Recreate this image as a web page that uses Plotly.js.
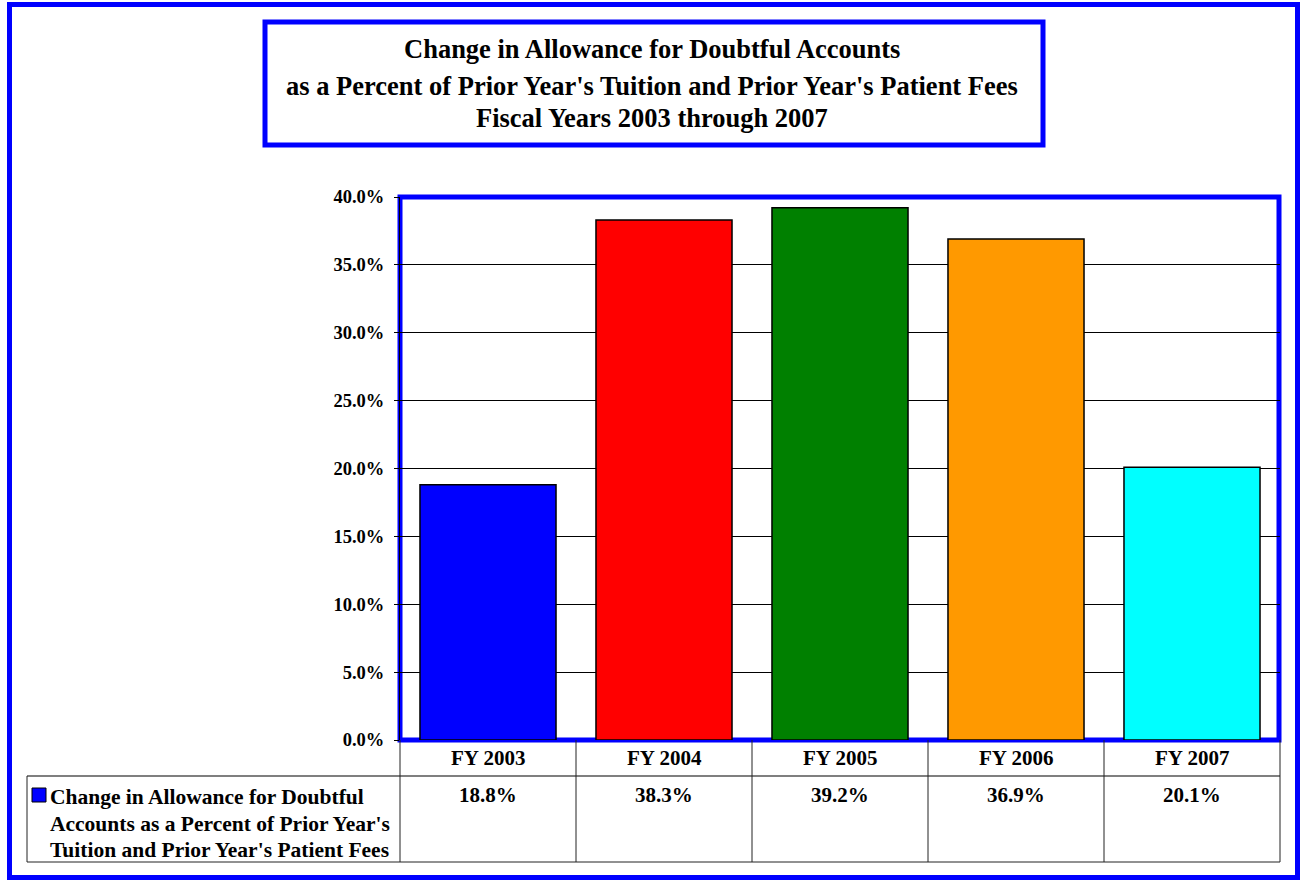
<!DOCTYPE html>
<html>
<head>
<meta charset="utf-8">
<script src="https://cdn.plot.ly/plotly-3.0.1.min.js"></script>
<style>
  html, body { margin: 0; padding: 0; background: #ffffff; }
  #chart { width: 1303px; height: 880px; }
</style>
</head>
<body>
<div id="chart"></div>
<script>
// Fiscal years and the change in allowance (percent of prior-year tuition and patient fees)
const categories = ['FY 2003', 'FY 2004', 'FY 2005', 'FY 2006', 'FY 2007'];
const allowancePct = [18.8, 38.3, 39.2, 36.9, 20.1];
const barColors = ['#0000FF', '#FF0000', '#008000', '#FF9900', '#00FFFF'];
const yTicks = [0, 5, 10, 15, 20, 25, 30, 35, 40];
const yTickLabels = yTicks.map(v => v.toFixed(1) + '%');
const titleLines = [
  'Change in Allowance for Doubtful Accounts',
  "as a Percent of Prior Year's Tuition and Prior Year's Patient Fees",
  'Fiscal Years 2003 through 2007'
];
const seriesLabelLines = [
  'Change in Allowance for Doubtful',
  "Accounts as a Percent of Prior Year's",
  "Tuition and Prior Year's Patient Fees"
];

// Page geometry (pixels) for the plot area
const W = 1303, H = 880;
const PL = 400, PR = 1280, PT = 197, PB = 740;
const px = x => (x - PL) / (PR - PL);
const py = y => (PB - y) / (PB - PT);

const FONT = 'Liberation Serif';
const BLUE = '#0000FF';
const TABLE_SIZE = 21;

const shapes = [];
const annotations = [];

// Outer frame
shapes.push({type: 'rect', xref: 'paper', yref: 'paper',
  x0: px(9.5), x1: px(1297.5), y0: py(4.5), y1: py(877.5),
  line: {color: BLUE, width: 5}, layer: 'below'});

// Title box
shapes.push({type: 'rect', xref: 'paper', yref: 'paper',
  x0: px(265), x1: px(1043), y0: py(22), y1: py(145),
  line: {color: BLUE, width: 5}});

// Plot area frame
shapes.push({type: 'rect', xref: 'paper', yref: 'paper',
  x0: px(400), x1: px(1279), y0: py(197), y1: py(740),
  line: {color: BLUE, width: 5}, layer: 'below'});

// Title lines
const titleY = [49, 86, 118];
titleLines.forEach((t, i) => {
  annotations.push({xref: 'paper', yref: 'paper', x: px(652), y: py(titleY[i]),
    xanchor: 'center', yanchor: 'middle', showarrow: false, text: t,
    font: {family: FONT, size: 26.5, color: '#000', weight: 'bold'}});
});

// Data table beneath the axis
const lineStyle = {color: '#222', width: 1};
const rowTop = 740, rowMid = 776, rowBot = 862, legendLeft = 27;
shapes.push({type: 'line', xref: 'paper', yref: 'paper',
  x0: px(legendLeft), x1: px(PR), y0: py(rowMid), y1: py(rowMid),
  line: {color: '#555', width: 1.5}});
shapes.push({type: 'line', xref: 'paper', yref: 'paper',
  x0: px(legendLeft), x1: px(PR), y0: py(rowBot), y1: py(rowBot), line: lineStyle});
shapes.push({type: 'line', xref: 'paper', yref: 'paper',
  x0: px(legendLeft), x1: px(legendLeft), y0: py(rowMid), y1: py(rowBot), line: lineStyle});
for (let i = 0; i <= categories.length; i++) {
  const xp = i / categories.length;
  shapes.push({type: 'line', xref: 'paper', yref: 'paper',
    x0: xp, x1: xp, y0: py(rowTop), y1: py(rowBot), line: lineStyle});
}

categories.forEach((c, i) => {
  annotations.push({xref: 'x', yref: 'paper', x: c, y: py(758),
    xanchor: 'center', yanchor: 'middle', showarrow: false, text: c,
    font: {family: FONT, size: TABLE_SIZE, color: '#000', weight: 'bold'}});
  annotations.push({xref: 'x', yref: 'paper', x: c, y: py(795),
    xanchor: 'center', yanchor: 'middle', showarrow: false,
    text: allowancePct[i].toFixed(1) + '%',
    font: {family: FONT, size: TABLE_SIZE, color: '#000', weight: 'bold'}});
});

// Series key in the table's first column
shapes.push({type: 'rect', xref: 'paper', yref: 'paper',
  x0: px(32), x1: px(46), y0: py(788), y1: py(802),
  fillcolor: barColors[0], line: {color: '#000', width: 1}});
const keyY = [797, 824, 850];
seriesLabelLines.forEach((t, i) => {
  annotations.push({xref: 'paper', yref: 'paper', x: px(48), y: py(keyY[i]),
    xanchor: 'left', yanchor: 'middle', showarrow: false, text: t,
    font: {family: FONT, size: 21.5, color: '#000', weight: 'bold'}});
});

const trace = {
  type: 'bar',
  x: categories,
  y: allowancePct,
  marker: {color: barColors, line: {color: '#000', width: 1.5}},
  hoverinfo: 'x+y'
};

const layout = {
  width: W, height: H,
  margin: {l: PL, r: W - PR, t: PT, b: H - PB, pad: 0},
  paper_bgcolor: '#ffffff',
  plot_bgcolor: '#ffffff',
  showlegend: false,
  bargap: 0.227,
  xaxis: {
    type: 'category',
    range: [-0.5, categories.length - 0.5],
    showticklabels: false,
    showgrid: false,
    zeroline: false,
    showline: false,
    ticks: ''
  },
  yaxis: {
    range: [0, 40],
    tickmode: 'array',
    tickvals: yTicks,
    ticktext: yTickLabels,
    showgrid: true,
    gridcolor: '#000',
    gridwidth: 1,
    zeroline: false,
    showline: true,
    linecolor: '#000',
    linewidth: 1,
    ticks: 'outside',
    ticklen: 5,
    tickcolor: '#000',
    ticklabelstandoff: 6,
    tickfont: {family: FONT, size: 18.5, color: '#000', weight: 'bold'}
  },
  shapes: shapes,
  annotations: annotations
};

Plotly.newPlot('chart', [trace], layout, {displayModeBar: false, staticPlot: true});
</script>
</body>
</html>
